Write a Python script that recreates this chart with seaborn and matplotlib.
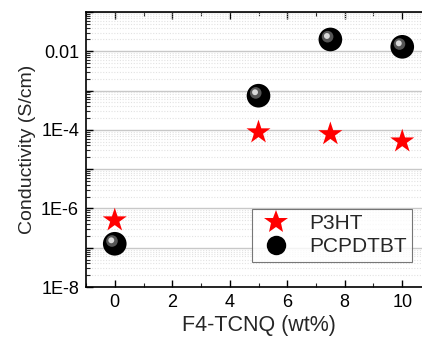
import numpy as np
import pandas as pd
import matplotlib
matplotlib.use("Agg")
import matplotlib.pyplot as plt
import matplotlib.ticker as mticker
from matplotlib.transforms import ScaledTranslation
from matplotlib.lines import Line2D
import seaborn as sns

x_wt = [0, 5, 7.5, 10]
p3ht = [5.0e-7, 8.7e-5, 7.8e-5, 5.1e-5]
pcpdtbt = [1.26e-7, 7.4e-4, 2.0e-2, 1.3e-2]
series = ["P3HT", "PCPDTBT"]
ytick_vals = [1e-8, 1e-6, 1e-4, 1e-2]
ytick_labels = ["1E-8", "1E-6", "1E-4", "0.01"]

df = pd.DataFrame({
    "x": x_wt * 2,
    "y": p3ht + pcpdtbt,
    "s": [series[0]] * 4 + [series[1]] * 4,
})

sns.set_style("ticks")
plt.rcParams["font.family"] = ["Liberation Sans", "DejaVu Sans"]

fig = plt.figure(figsize=(4.22, 3.41), dpi=100)
W, H = 422, 341
ax = fig.add_axes([86 / W, (H - 287) / H, (431 - 86) / W, (287 - 12) / H])

ax.set_yscale("log")
ax.set_ylim(1e-8, 1e-1)
ax.set_xlim(-1, 11)

ax.yaxis.set_major_locator(mticker.LogLocator(base=10, numticks=20))
ax.yaxis.set_minor_locator(mticker.LogLocator(base=10, subs=np.arange(2, 10), numticks=20))
ax.grid(True, which="major", axis="y", color="#c8c8c8", lw=1.0, ls="-", zorder=0)
ax.grid(True, which="minor", axis="y", color="#e2e2e2", lw=0.8, ls=(0, (1, 1.5)), zorder=0)
ax.set_axisbelow(True)

sns.scatterplot(data=df[df.s == series[0]], x="x", y="y", ax=ax, marker="*", s=330,
                color="#ff0000", edgecolor="none", zorder=3, legend=False)
sns.scatterplot(data=df[df.s == series[1]], x="x", y="y", ax=ax, marker="o", s=290,
                color="#000000", edgecolor="none", zorder=3, legend=False)
off = ScaledTranslation(-2 / 72, 2 / 72, fig.dpi_scale_trans)
hl = df[df.s == series[1]]
ax.scatter(hl.x, hl.y, s=70, color="#555555", edgecolor="none", zorder=4,
           transform=ax.transData + off)
off2 = ScaledTranslation(-2.5 / 72, 2.5 / 72, fig.dpi_scale_trans)
ax.scatter(hl.x, hl.y, s=18, color="#d8d8d8", edgecolor="none", zorder=5,
           transform=ax.transData + off2)

ax.xaxis.set_major_locator(mticker.MultipleLocator(2))
ax.xaxis.set_minor_locator(mticker.MultipleLocator(1))

def yfmt(v, pos):
    for tv, tl in zip(ytick_vals, ytick_labels):
        if abs(np.log10(v) - np.log10(tv)) < 1e-6:
            return tl
    return ""
ax.yaxis.set_major_formatter(mticker.FuncFormatter(yfmt))
ax.yaxis.set_minor_formatter(mticker.NullFormatter())

ax.tick_params(axis="both", which="major", direction="in", length=5, width=1.0,
               labelsize=13, colors="black", top=True, right=False, pad=5)
ax.tick_params(axis="both", which="minor", direction="in", length=3, width=0.8,
               top=True, right=False)
for sp in ["left", "bottom", "top"]:
    ax.spines[sp].set_visible(True)
    ax.spines[sp].set_color("black")
    ax.spines[sp].set_linewidth(1.2)
ax.spines["right"].set_visible(False)

ax.set_xlabel("F4-TCNQ (wt%)", fontsize=15.5, labelpad=3)
ax.set_ylabel("Conductivity (S/cm)", fontsize=14, labelpad=4)

handles = [
    Line2D([], [], marker="*", color="#ff0000", ls="none", markersize=18, markeredgewidth=0),
    Line2D([], [], marker="o", color="#000000", ls="none", markersize=14, markeredgewidth=0),
]
leg = fig.legend(handles, series, loc="upper left",
                 bbox_to_anchor=(252 / W, 1 - 209 / H), bbox_transform=fig.transFigure,
                 fontsize=15, frameon=True, fancybox=False, edgecolor="#555555",
                 handletextpad=0.7, borderpad=0.25, labelspacing=0.2, handlelength=1.8,
                 borderaxespad=0)
leg.get_frame().set_linewidth(0.8)

fig.savefig("out.png", dpi=100)
